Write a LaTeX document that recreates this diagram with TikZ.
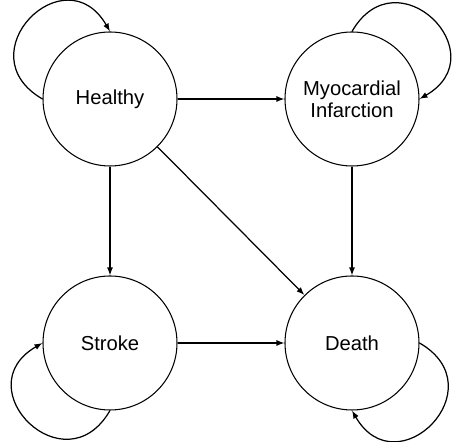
\documentclass[tikz,border=0pt]{standalone}
\usepackage{fontspec}
\setmainfont{Liberation Sans}
\usetikzlibrary{positioning,arrows.meta}
\newcommand{\stateleft}{2.2}
\newcommand{\stateright}{7.04}
\newcommand{\statetop}{6.86}
\newcommand{\statebottom}{1.98}
\newcommand{\loopreach}{1.8}

\begin{document}
\begin{tikzpicture}[
    state/.style={draw, circle, line width=0.6pt, minimum size=2.68cm,
      inner sep=0pt, align=center, font=\fontsize{11.5}{12.5}\selectfont},
    trans/.style={-{Latex[length=1.6mm, width=1.2mm]}, line width=0.7pt}
  ]
  \useasboundingbox (0, 0) rectangle (9.14, 8.84);

  \node [state] (healthy) at (\stateleft, \statetop) {Healthy};
  \node [state] (infarct) at (\stateright, \statetop) {Myocardial\\Infarction};
  \node [state] (stroke)  at (\stateleft, \statebottom) {Stroke};
  \node [state] (death)   at (\stateright, \statebottom) {Death};

  \draw [trans] (healthy) -- (infarct);
  \draw [trans] (healthy) -- (stroke);
  \draw [trans] (healthy) -- (death);
  \draw [trans] (infarct) -- (death);
  \draw [trans] (stroke)  -- (death);

  % self loops
  \draw [trans] (healthy.west) .. controls +(150:\loopreach) and +(120:\loopreach) .. (healthy.north);
  \draw [trans] (infarct.north) .. controls +(60:\loopreach) and +(30:\loopreach) .. (infarct.east);
  \draw [trans] (stroke.south) .. controls +(240:\loopreach) and +(210:\loopreach) .. (stroke.west);
  \draw [trans] (death.east) .. controls +(330:\loopreach) and +(300:\loopreach) .. (death.south);
\end{tikzpicture}
\end{document}
